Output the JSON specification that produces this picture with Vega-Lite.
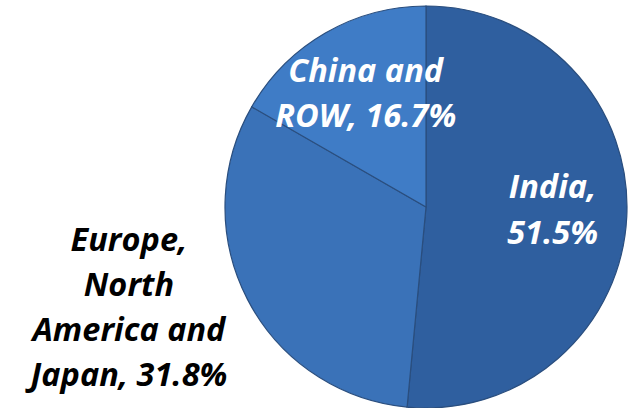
{
  "$schema": "https://vega.github.io/schema/vega-lite/v6.json",
  "autosize": "none",
  "width": 402,
  "height": 402,
  "padding": {"left": 225, "top": 6, "right": 2, "bottom": 0},
  "background": "white",
  "view": {"stroke": null},
  "data": {
    "values": [
      {"region": "India", "label": "India,\n51.5%", "share": 51.5},
      {"region": "Europe, North America and Japan", "label": "Europe,\nNorth\nAmerica and\nJapan, 31.8%", "share": 31.8},
      {"region": "China and ROW", "label": "China and\nROW, 16.7%", "share": 16.7}
    ]
  },
  "encoding": {
    "theta": {"field": "share", "type": "quantitative", "stack": true},
    "order": {"field": "share", "sort": "descending"}
  },
  "layer": [
    {
      "mark": {"type": "arc", "stroke": "#2a4e7e", "strokeWidth": 1.2},
      "encoding": {
        "color": {
          "field": "region",
          "type": "nominal",
          "scale": {
            "domain": ["India", "Europe, North America and Japan", "China and ROW"],
            "range": ["#2f5f9f", "#3a72b8", "#3f7cc6"]
          },
          "legend": null
        }
      }
    },
    {
      "mark": {
        "type": "text", "radius": 128, "thetaOffset": -0.195, "font": "Open Sans", "fontSize": 32.5,
        "fontWeight": "bold", "fontStyle": "italic", "lineBreak": "\n",
        "lineHeight": 46, "align": "center", "baseline": "middle", "color": "white"
      },
      "encoding": {
        "text": {"field": "label"},
        "opacity": {"condition": {"test": "datum.region === 'India'", "value": 1}, "value": 0}
      }
    },
    {
      "mark": {
        "type": "text", "radius": 148, "thetaOffset": 0.105, "font": "Open Sans", "fontSize": 32.5,
        "fontWeight": "bold", "fontStyle": "italic", "lineBreak": "\n",
        "lineHeight": 45, "align": "center", "baseline": "middle", "color": "white"
      },
      "encoding": {
        "text": {"field": "label"},
        "opacity": {"condition": {"test": "datum.region === 'China and ROW'", "value": 1}, "value": 0}
      }
    },
    {
      "mark": {
        "type": "text", "radius": 299, "thetaOffset": 0.364, "font": "Open Sans", "fontSize": 32.5,
        "fontWeight": "bold", "fontStyle": "italic", "lineBreak": "\n",
        "lineHeight": 45, "align": "center", "baseline": "middle", "color": "black"
      },
      "encoding": {
        "text": {"field": "label"},
        "opacity": {"condition": {"test": "datum.region === 'Europe, North America and Japan'", "value": 1}, "value": 0}
      }
    }
  ]
}
